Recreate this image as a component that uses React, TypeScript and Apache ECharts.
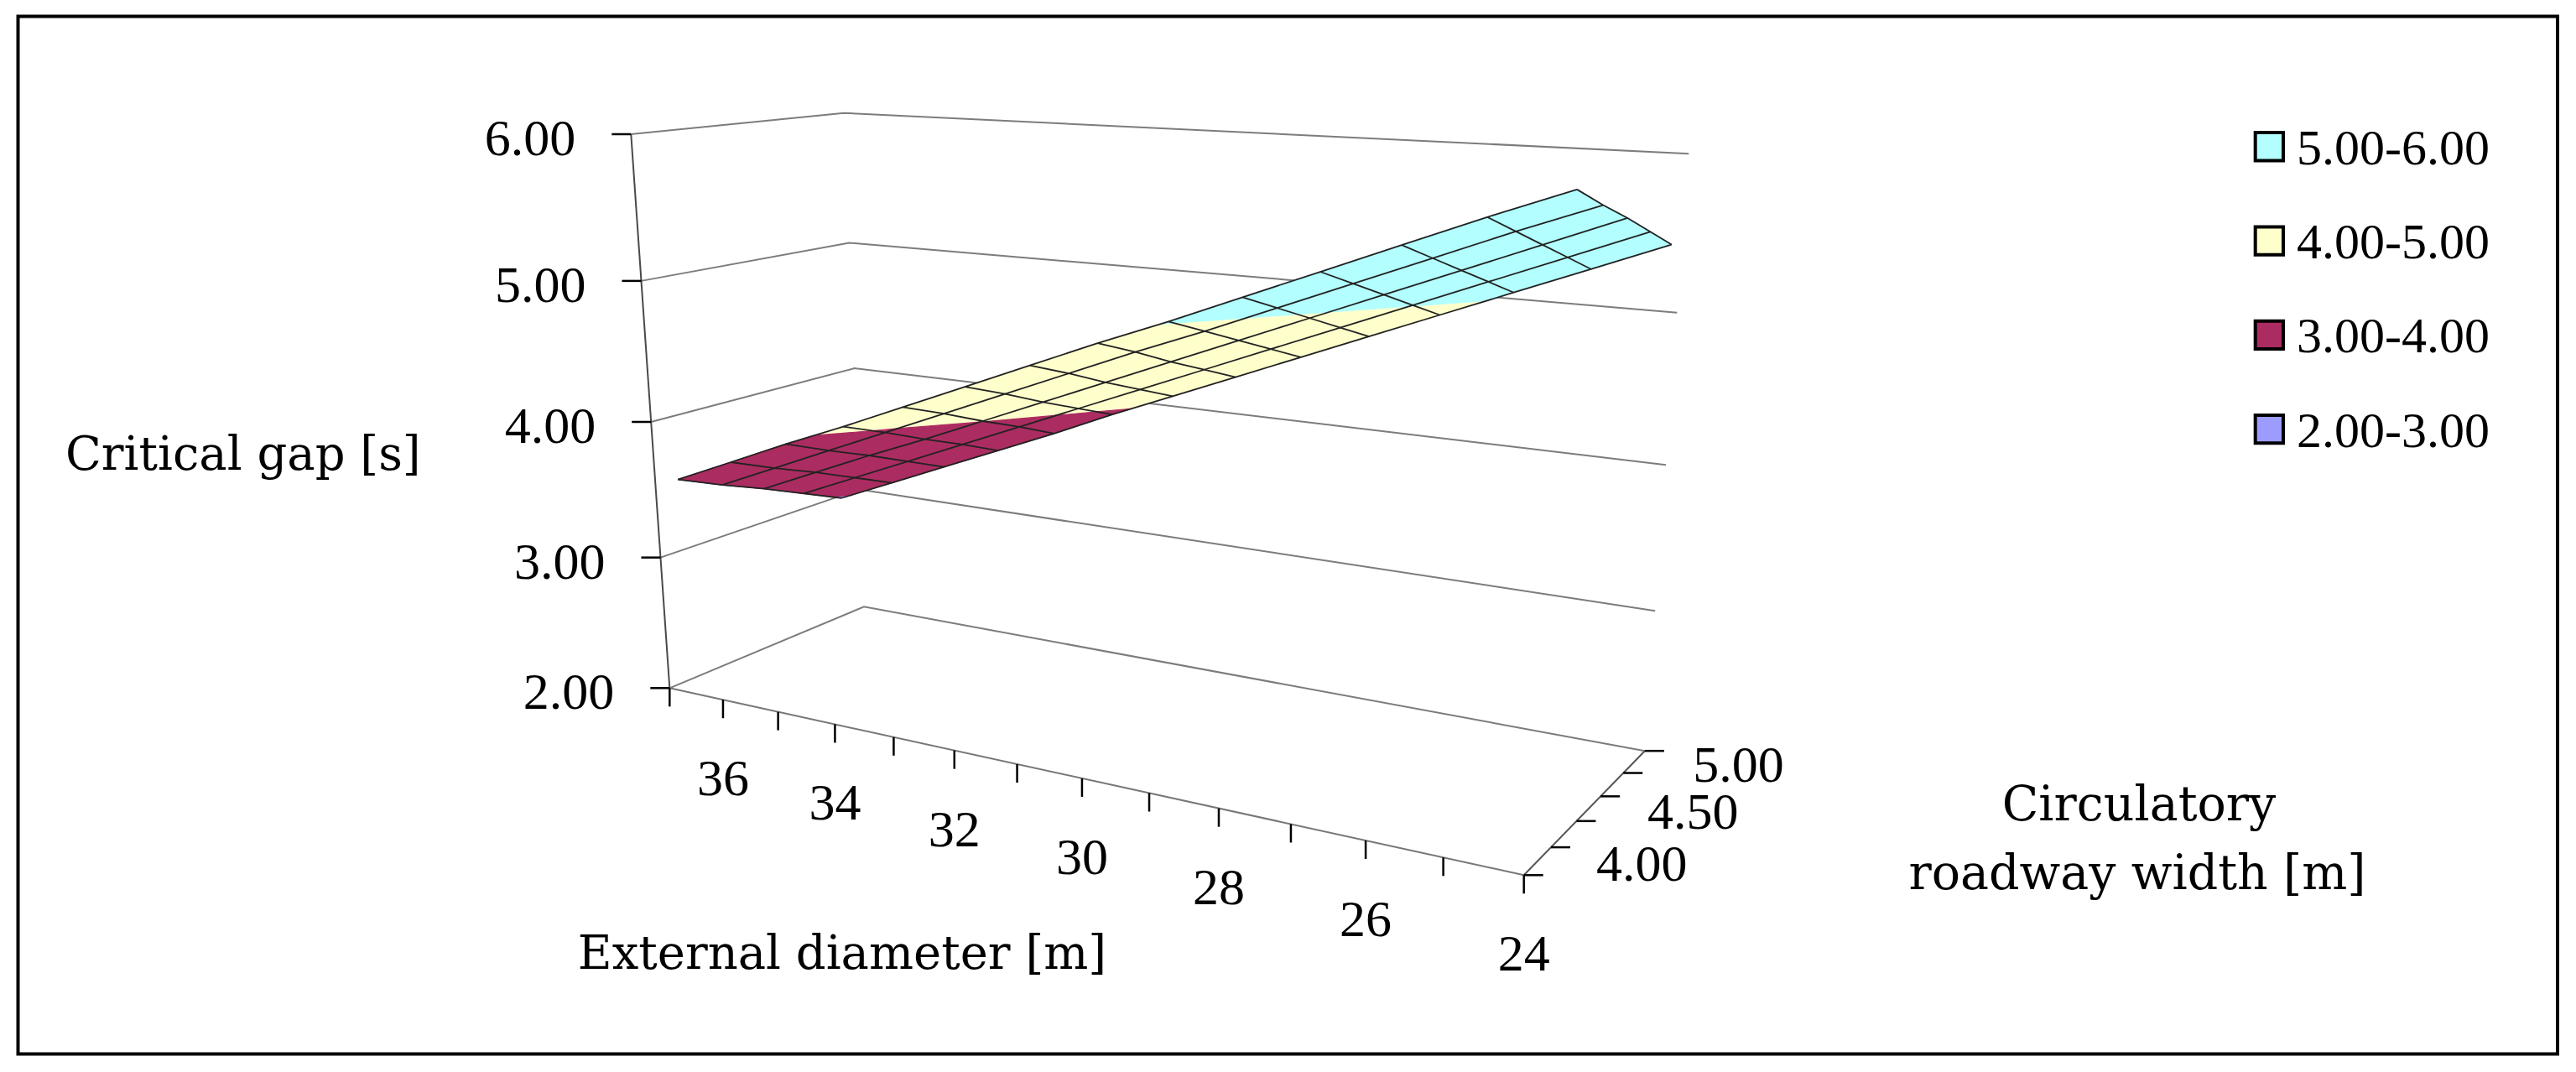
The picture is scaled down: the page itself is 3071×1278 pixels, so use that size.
import React, { useEffect, useRef } from "react";
import * as echarts from "echarts";

// ---------------- data ----------------
const DIAMETERS = [37, 36, 35, 34, 33, 32, 31, 30, 29, 28, 27, 26, 25, 24];
const WIDTHS = [4.0, 4.25, 4.5, 4.75, 5.0];
const GAP_W400 = [3.53, 3.72, 3.91, 4.09, 4.28, 4.47, 4.66, 4.85, 5.03, 5.22, 5.41, 5.6, 5.79, 5.97];
const GAP_W425 = [3.39, 3.58, 3.77, 3.96, 4.15, 4.34, 4.53, 4.72, 4.9, 5.09, 5.28, 5.47, 5.66, 5.84];
const GAP_W450 = [3.26, 3.45, 3.64, 3.82, 4.01, 4.2, 4.39, 4.58, 4.77, 4.96, 5.15, 5.34, 5.53, 5.72];
const GAP_W475 = [3.12, 3.31, 3.5, 3.69, 3.88, 4.07, 4.26, 4.45, 4.64, 4.83, 5.02, 5.21, 5.4, 5.59];
const GAP_W500 = [2.98, 3.17, 3.36, 3.55, 3.74, 3.94, 4.13, 4.32, 4.51, 4.7, 4.89, 5.08, 5.27, 5.46];
const GAP_BY_WIDTH = [GAP_W400, GAP_W425, GAP_W450, GAP_W475, GAP_W500];
const VALUE_TICKS = [2, 3, 4, 5, 6];
const DIAMETER_LABELS = [36, 34, 32, 30, 28, 26, 24];
const WIDTH_LABELS = [4.0, 4.5, 5.0];
const BAND_NAMES = ["5.00-6.00", "4.00-5.00", "3.00-4.00", "2.00-3.00"];
const BAND_LOW = [5, 4, 3, 2];
const BAND_HIGH = [6, 5, 4, 3];

// ---------------- styles / layout ----------------
const BAND_COLORS = ["#B3FFFF", "#FFFFCC", "#AB2C61", "#9C9CFF"];
const W = 3071;
const H = 1278;
const NUM_FONT = '"Liberation Serif", "Times New Roman", serif';
const TITLE_FONT = '"DejaVu Serif", serif';

// perspective camera of the 3-D box (maps unit box coords into the hidden 2-D value axes)
const CAM = {
  ox: 798.3, oy: 820.3,
  ax: 655.06, ay: 14.34,
  bx: 360.45, by: -6.59,
  cx: -102.35, cy: -672.3,
  pu: -0.2, pv: 0.125, pw: -0.0749,
};

const Z_MIN = VALUE_TICKS[0];
const Z_MAX = VALUE_TICKS[VALUE_TICKS.length - 1];

function project(u: number, v: number, w: number): number[] {
  const d = 1 + CAM.pu * u + CAM.pv * v + CAM.pw * w;
  return [
    (CAM.ox + CAM.ax * u + CAM.bx * v + CAM.cx * w) / d,
    (CAM.oy + CAM.ay * u + CAM.by * v + CAM.cy * w) / d,
  ];
}
const uOf = (idx: number) => idx / (DIAMETERS.length - 1);
const vOfSeries = (j: number) => (j + 0.5) / WIDTHS.length;
const wOf = (z: number) => (z - Z_MIN) / (Z_MAX - Z_MIN);

function clipHalf(poly: number[][], f: (p: number[]) => number): number[][] {
  const res: number[][] = [];
  for (let k = 0; k < poly.length; k++) {
    const a = poly[k];
    const b = poly[(k + 1) % poly.length];
    const fa = f(a);
    const fb = f(b);
    if (fa >= 0) res.push(a);
    if ((fa >= 0) !== (fb >= 0)) {
      const t = fa / (fa - fb);
      res.push([a[0] + t * (b[0] - a[0]), a[1] + t * (b[1] - a[1]), a[2] + t * (b[2] - a[2])]);
    }
  }
  return res;
}

function txt(x: number, y: number, text: string, size: number, family: string, align: string, valign: string) {
  return {
    type: "text",
    x,
    y,
    style: {
      text,
      fill: "#000",
      fontSize: size,
      fontFamily: family,
      align,
      verticalAlign: valign,
      textAlign: align,
      textVerticalAlign: valign,
    },
  };
}

export default function App() {
  const ref = useRef<HTMLDivElement>(null);

  useEffect(() => {
    if (!ref.current) return;
    const chart = echarts.init(ref.current, undefined, { renderer: "svg" });

    const P = (api: any, u: number, v: number, w: number) => api.coord(project(u, v, w));

    // walls / gridlines
    const wallSeries = {
      type: "custom",
      z: 1,
      silent: true,
      clip: false,
      data: VALUE_TICKS.map((z) => [z, 0]),
      renderItem: (_p: any, api: any) => {
        const w = wOf(api.value(0));
        return {
          type: "polyline",
          shape: { points: [P(api, 0, 0, w), P(api, 0, 1, w), P(api, 1, 1, w)] },
          style: { stroke: "#7c7c7c", lineWidth: 2, fill: null },
        };
      },
    };

    // axis lines
    const axisSeries = {
      type: "custom",
      z: 2,
      silent: true,
      clip: false,
      data: [[0, 0], [1, 0], [2, 0]],
      renderItem: (_p: any, api: any) => {
        const k = api.value(0);
        let a: number[], b: number[], col: string;
        if (k === 0) { a = P(api, 0, 0, 0); b = P(api, 0, 0, 1); col = "#4a4a4a"; }
        else if (k === 1) { a = P(api, 0, 0, 0); b = P(api, 1, 0, 0); col = "#777"; }
        else { a = P(api, 1, 0, 0); b = P(api, 1, 1, 0); col = "#555"; }
        return { type: "line", shape: { x1: a[0], y1: a[1], x2: b[0], y2: b[1] }, style: { stroke: col, lineWidth: 2 } };
      },
    };

    // ticks
    const tickData: number[][] = [];
    VALUE_TICKS.forEach((_z, i) => tickData.push([0, i]));
    DIAMETERS.forEach((_d, i) => tickData.push([1, i]));
    for (let k = 0; k <= WIDTHS.length; k++) tickData.push([2, k]);
    const tickSeries = {
      type: "custom",
      z: 2,
      silent: true,
      clip: false,
      data: tickData,
      renderItem: (_p: any, api: any) => {
        const kind = api.value(0);
        const idx = api.value(1);
        let a: number[], b: number[];
        if (kind === 0) {
          a = P(api, 0, 0, wOf(VALUE_TICKS[idx]));
          b = [a[0] - 23, a[1]];
        } else if (kind === 1) {
          a = P(api, uOf(idx), 0, 0);
          b = [a[0], a[1] + 22];
        } else {
          a = P(api, 1, idx / WIDTHS.length, 0);
          b = [a[0] + 23, a[1]];
        }
        return { type: "line", shape: { x1: a[0], y1: a[1], x2: b[0], y2: b[1] }, style: { stroke: "#000", lineWidth: 2.5 } };
      },
    };

    // surface bands
    const cellData: number[][] = [];
    for (let j = 0; j < WIDTHS.length - 1; j++)
      for (let i = 0; i < DIAMETERS.length - 1; i++) cellData.push([i, j]);

    const bandSeries = BAND_NAMES.map((name, k) => ({
      type: "custom",
      name,
      z: 3,
      silent: true,
      clip: false,
      itemStyle: { color: BAND_COLORS[k] },
      data: cellData,
      renderItem: (_p: any, api: any) => {
        const i = api.value(0);
        const j = api.value(1);
        const quad = [[i, j], [i + 1, j], [i + 1, j + 1], [i, j + 1]].map(([a, b]) => [
          uOf(a),
          vOfSeries(b),
          GAP_BY_WIDTH[b][a],
        ]);
        let poly = clipHalf(quad, (p) => p[2] - BAND_LOW[k]);
        poly = clipHalf(poly, (p) => BAND_HIGH[k] - p[2]);
        if (poly.length < 3) return { type: "group", children: [] };
        const pts = poly.map((p) => P(api, p[0], p[1], wOf(p[2])));
        return {
          type: "polygon",
          shape: { points: pts },
          style: { fill: BAND_COLORS[k], stroke: BAND_COLORS[k], lineWidth: 1.2 },
        };
      },
    }));

    // surface mesh lines
    const meshData: number[][] = [];
    WIDTHS.forEach((_w, j) => meshData.push([0, j]));
    DIAMETERS.forEach((_d, i) => meshData.push([1, i]));
    const meshSeries = {
      type: "custom",
      z: 4,
      silent: true,
      clip: false,
      data: meshData,
      renderItem: (_p: any, api: any) => {
        const kind = api.value(0);
        const idx = api.value(1);
        const pts: number[][] = [];
        if (kind === 0) {
          DIAMETERS.forEach((_d, i) => pts.push(P(api, uOf(i), vOfSeries(idx), wOf(GAP_BY_WIDTH[idx][i]))));
        } else {
          WIDTHS.forEach((_w, j) => pts.push(P(api, uOf(idx), vOfSeries(j), wOf(GAP_BY_WIDTH[j][idx]))));
        }
        return { type: "polyline", shape: { points: pts }, style: { stroke: "#222", lineWidth: 1.8, fill: null } };
      },
    };

    // tick labels
    const labelData: number[][] = [];
    VALUE_TICKS.forEach((_z, i) => labelData.push([0, i]));
    DIAMETER_LABELS.forEach((_d, i) => labelData.push([1, i]));
    WIDTH_LABELS.forEach((_w, i) => labelData.push([2, i]));
    const labelSeries = {
      type: "custom",
      z: 5,
      silent: true,
      clip: false,
      data: labelData,
      renderItem: (_p: any, api: any) => {
        const kind = api.value(0);
        const idx = api.value(1);
        if (kind === 0) {
          const z = VALUE_TICKS[idx];
          const a = P(api, 0, 0, wOf(z));
          return txt(a[0] - 66, a[1] + 4, z.toFixed(2), 62, NUM_FONT, "right", "middle");
        }
        if (kind === 1) {
          const d = DIAMETER_LABELS[idx];
          const a = P(api, uOf(DIAMETERS.indexOf(d)), 0, 0);
          return txt(a[0], a[1] + 93, String(d), 62, NUM_FONT, "center", "middle");
        }
        const wv = WIDTH_LABELS[idx];
        const a = P(api, 1, vOfSeries(WIDTHS.indexOf(wv)), 0);
        return txt(a[0] + 70, a[1] + 3, wv.toFixed(2), 62, NUM_FONT, "left", "middle");
      },
    };

    // static layout: frame, titles, legend
    const graphic: any[] = [
      {
        type: "rect",
        shape: { x: 21.5, y: 19.5, width: 3027.5, height: 1237 },
        style: { fill: "none", stroke: "#000", lineWidth: 4 },
        silent: true,
        z: 0,
      },
      { ...txt(78, 540, "Critical gap [s]", 56, TITLE_FONT, "left", "middle"), z: 10 },
      { ...txt(1004, 1135, "External diameter [m]", 56, TITLE_FONT, "center", "middle"), z: 10 },
      { ...txt(2550, 958, "Circulatory", 57, TITLE_FONT, "center", "middle"), z: 10 },
      { ...txt(2548, 1040, "roadway width [m]", 57, TITLE_FONT, "center", "middle"), z: 10 },
    ];
    BAND_NAMES.forEach((name, k) => {
      const cy = 174.7 + k * 112.3;
      graphic.push({
        type: "rect",
        shape: { x: 2688.7, y: cy - 16.6, width: 33.3, height: 33.3 },
        style: { fill: BAND_COLORS[k], stroke: "#000", lineWidth: 4 },
        z: 10,
      });
      graphic.push({ ...txt(2738, cy + 1, name, 60, NUM_FONT, "left", "middle"), z: 10 });
    });

    chart.setOption({
      animation: false,
      backgroundColor: "#ffffff",
      tooltip: { show: false },
      grid: { left: 0, right: 0, top: 0, bottom: 0, containLabel: false },
      xAxis: { type: "value", min: 0, max: W, show: false },
      yAxis: { type: "value", min: 0, max: H, inverse: true, show: false },
      series: [wallSeries, axisSeries, tickSeries, ...bandSeries, meshSeries, labelSeries],
      graphic,
    } as any);

    return () => {
      chart.dispose();
    };
  }, []);

  return (
    <div
      ref={ref}
      style={{ position: "absolute", left: 0, top: 0, width: W + "px", height: H + "px", background: "#fff" }}
    />
  );
}
